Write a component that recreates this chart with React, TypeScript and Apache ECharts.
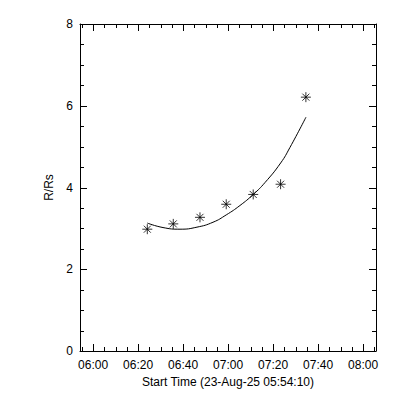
import React, { useEffect, useRef } from "react";
import * as echarts from "echarts";

// Observation times (UT) and heights (R/Rs)
const dataTimes = ["06:24:05", "06:35:38", "06:47:30", "06:59:10", "07:11:10", "07:23:20", "07:34:35"];
const dataValues = [2.98, 3.11, 3.27, 3.59, 3.83, 4.08, 6.21];

// Fitted curve
const fitTimes = ["06:24:05", "06:31:04", "06:38:37", "06:46:10", "06:53:17", "06:59:11", "07:05:17", "07:11:11", "07:16:23", "07:23:22", "07:27:30", "07:34:37"];
const fitValues = [3.13, 3.02, 2.98, 3.03, 3.15, 3.33, 3.56, 3.83, 4.12, 4.6, 4.98, 5.72];

// Axes
const axisStart = "05:54:10";
const axisEnd = "08:05:45";
const majorTicks = ["06:00", "06:20", "06:40", "07:00", "07:20", "07:40", "08:00"];
const minorTicks = ["05:55", "06:05", "06:10", "06:15", "06:25", "06:30", "06:35", "06:45", "06:50", "06:55", "07:05", "07:10", "07:15", "07:25", "07:30", "07:35", "07:45", "07:50", "07:55", "08:05"];
const yMajorTicks = [0, 2, 4, 6, 8];
const yMinorTicks = [0.5, 1, 1.5, 2.5, 3, 3.5, 4.5, 5, 5.5, 6.5, 7, 7.5];

const toMin = (s: string) => {
  const p = s.split(":").map(Number);
  return p[0] * 60 + p[1] + (p[2] || 0) / 60;
};
const fmt = (v: number) => {
  const m = Math.round(v);
  const h = Math.floor(m / 60);
  const mm = m % 60;
  return String(h).padStart(2, "0") + ":" + String(mm).padStart(2, "0");
};

export default function App() {
  const ref = useRef<HTMLDivElement>(null);
  useEffect(() => {
    document.body.style.margin = "0";
    const chart = echarts.init(ref.current!, null, { renderer: "svg" });
    const font = "Liberation Sans";
    const black = "#000";
    const xmin = toMin(axisStart);
    const xmax = toMin(axisEnd);
    const ymin = 0;
    const ymax = 8;
    const majors = majorTicks.map(toMin);
    const minors = minorTicks.map(toMin);
    const MAJOR_LEN = 7;
    const MINOR_LEN = 4;

    const xAxisBase = (pos: string, labels: boolean, extra: any = {}) => ({
      type: "value",
      position: pos,
      min: xmin,
      max: xmax,
      axisLine: { show: true, onZero: false, lineStyle: { color: black, width: 1 } },
      axisTick: { show: false },
      axisLabel: labels
        ? { show: true, customValues: majors, formatter: (v: number) => fmt(v), color: black, fontFamily: font, fontSize: 12, margin: 8 }
        : { show: false },
      splitLine: { show: false },
      ...extra,
    });
    const yAxisBase = (pos: string, labels: boolean, extra: any = {}) => ({
      type: "value",
      position: pos,
      min: ymin,
      max: ymax,
      interval: 2,
      axisLine: { show: true, onZero: false, lineStyle: { color: black, width: 1 } },
      axisTick: { show: false },
      axisLabel: labels ? { show: true, color: black, fontFamily: font, fontSize: 12, margin: 7 } : { show: false },
      splitLine: { show: false },
      ...extra,
    });

    chart.setOption({
      animation: false,
      backgroundColor: "#fff",
      grid: { left: 80, top: 24, width: 296, height: 327 },
      xAxis: [
        xAxisBase("bottom", true, {
          name: "Start Time (23-Aug-25 " + axisStart + ")",
          nameLocation: "middle",
          nameGap: 24,
          nameTextStyle: { color: black, fontFamily: font, fontSize: 12 },
        }),
        xAxisBase("top", false),
      ],
      yAxis: [
        yAxisBase("left", true, {
          name: "R/Rs",
          nameLocation: "middle",
          nameGap: 20,
          nameTextStyle: { color: black, fontFamily: font, fontSize: 12 },
        }),
        yAxisBase("right", false),
      ],
      series: [
        {
          // x ticks on bottom and top edges, pointing inward
          type: "custom",
          xAxisIndex: 0,
          yAxisIndex: 0,
          silent: true,
          clip: false,
          z: 5,
          data: [...majors, ...minors].map((v) => [v, ymin]),
          renderItem: (params: any, api: any) => {
            const v = api.value(0);
            const len = params.dataIndex < majors.length ? MAJOR_LEN : MINOR_LEN;
            const pb = api.coord([v, ymin]);
            const pt = api.coord([v, ymax]);
            const x = Math.round(pb[0]) + 0.5;
            const yb = Math.round(pb[1]);
            const yt = Math.round(pt[1]);
            return {
              type: "group",
              children: [
                { type: "line", shape: { x1: x, y1: yb, x2: x, y2: yb - len }, style: { stroke: black, lineWidth: 1 } },
                { type: "line", shape: { x1: x, y1: yt, x2: x, y2: yt + len }, style: { stroke: black, lineWidth: 1 } },
              ],
            };
          },
        },
        {
          // y ticks on left and right edges, pointing inward
          type: "custom",
          xAxisIndex: 0,
          yAxisIndex: 0,
          silent: true,
          clip: false,
          z: 5,
          data: [...yMajorTicks, ...yMinorTicks].map((v) => [xmin, v]),
          renderItem: (params: any, api: any) => {
            const v = api.value(1);
            const len = params.dataIndex < yMajorTicks.length ? MAJOR_LEN : MINOR_LEN;
            const pl = api.coord([xmin, v]);
            const pr = api.coord([xmax, v]);
            const y = Math.round(pl[1]) + 0.5;
            const xl = Math.round(pl[0]);
            const xr = Math.round(pr[0]);
            return {
              type: "group",
              children: [
                { type: "line", shape: { x1: xl, y1: y, x2: xl + len, y2: y }, style: { stroke: black, lineWidth: 1 } },
                { type: "line", shape: { x1: xr, y1: y, x2: xr - len, y2: y }, style: { stroke: black, lineWidth: 1 } },
              ],
            };
          },
        },
        {
          type: "line",
          xAxisIndex: 0,
          yAxisIndex: 0,
          data: fitTimes.map((t, i) => [toMin(t), fitValues[i]]),
          showSymbol: false,
          smooth: 0.5,
          lineStyle: { color: black, width: 1 },
          silent: true,
        },
        {
          type: "scatter",
          xAxisIndex: 0,
          yAxisIndex: 0,
          data: dataTimes.map((t, i) => [toMin(t), dataValues[i]]),
          symbol: "path://M0,5L10,5M5,0L5,10M1.5,1.5L8.5,8.5M8.5,1.5L1.5,8.5",
          symbolSize: 10,
          itemStyle: { color: "none", borderColor: black, borderWidth: 1 },
        },
      ],
    });
    return () => chart.dispose();
  }, []);
  return <div ref={ref} style={{ width: 400, height: 400 }} />;
}
